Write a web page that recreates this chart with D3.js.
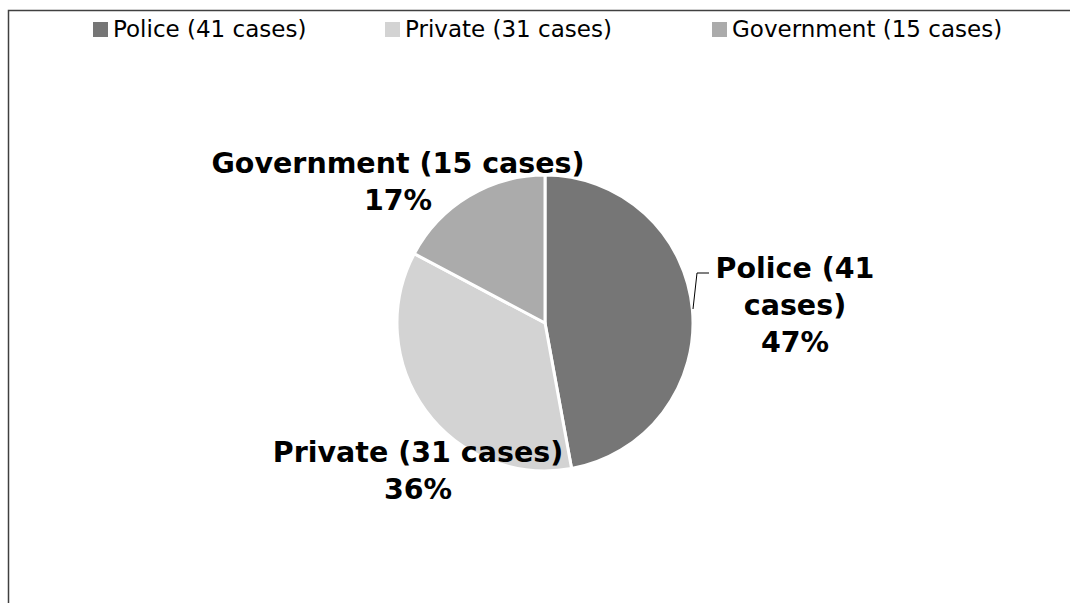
<!DOCTYPE html>
<html>
<head>
<meta charset="utf-8">
<script src="https://cdn.jsdelivr.net/npm/d3@7"></script>
<style>
  body { margin: 0; background: #fff; }
  svg { display: block; }
</style>
</head>
<body>
<div id="chart"></div>
<script>
// data
const categories = ["Police (41 cases)", "Private (31 cases)", "Government (15 cases)"];
const cases = [41, 31, 15];
const colors = ["#767676", "#d3d3d3", "#ababab"];
// data label lines as they wrap in the original
const labelLines = [["Police (41", "cases)"], ["Private (31 cases)"], ["Government (15 cases)"]];
// label centres, relative to the pie centre
const labelOffsets = [[250, -18], [-127, 147], [-147, -142]];

const width = 1070, height = 603;
const cx = 545, cy = 323, r = 148;
const font = "'DejaVu Sans', Verdana, sans-serif";

const svg = d3.select("#chart").append("svg")
    .attr("width", width)
    .attr("height", height);

// chart frame (runs off the right and bottom of the picture)
svg.append("rect")
    .attr("x", 8.5).attr("y", 10.5)
    .attr("width", width + 20).attr("height", height + 20)
    .attr("fill", "none")
    .attr("stroke", "#404040")
    .attr("stroke-width", 1.5);

const total = d3.sum(cases);
const data = categories.map((c, i) => ({ name: c, value: cases[i], i }));

const pie = d3.pie().value(d => d.value).sort(null);
const arc = d3.arc().innerRadius(0).outerRadius(r);
const pct = d3.format(".0%");

const g = svg.append("g").attr("transform", `translate(${cx},${cy})`);

g.selectAll("path")
    .data(pie(data))
    .enter().append("path")
    .attr("d", arc)
    .attr("fill", d => colors[d.data.i])
    .attr("stroke", "#fff")
    .attr("stroke-width", 3)
    .attr("stroke-linejoin", "round");

// leader line for the police label
g.append("polyline")
    .attr("points", [[164, -50], [152, -50], [148, -14]].map(p => p.join(",")).join(" "))
    .attr("fill", "none")
    .attr("stroke", "#000")
    .attr("stroke-width", 1);

// data labels
const lineH = 37;
data.forEach((d, i) => {
    const lines = labelLines[i].concat([pct(d.value / total)]);
    const [ox, oy] = labelOffsets[i];
    const t = g.append("text")
        .attr("text-anchor", "middle")
        .attr("font-family", font)
        .attr("font-weight", "bold")
        .attr("font-size", 28.5)
        .attr("fill", "#000");
    lines.forEach((l, k) => {
        t.append("tspan")
            .attr("x", ox)
            .attr("y", oy + (k - (lines.length - 1) / 2) * lineH + 10)
            .text(l);
    });
});

// legend
const legendX = [93, 385, 712];
const legend = svg.append("g");
data.forEach((d, i) => {
    const lg = legend.append("g").attr("transform", `translate(${legendX[i]},22)`);
    lg.append("rect")
        .attr("width", 15).attr("height", 15)
        .attr("fill", colors[i]);
    lg.append("text")
        .attr("x", 20).attr("y", 15)
        .attr("font-family", font)
        .attr("font-size", 23)
        .attr("fill", "#000")
        .text(d.name);
});
</script>
</body>
</html>
